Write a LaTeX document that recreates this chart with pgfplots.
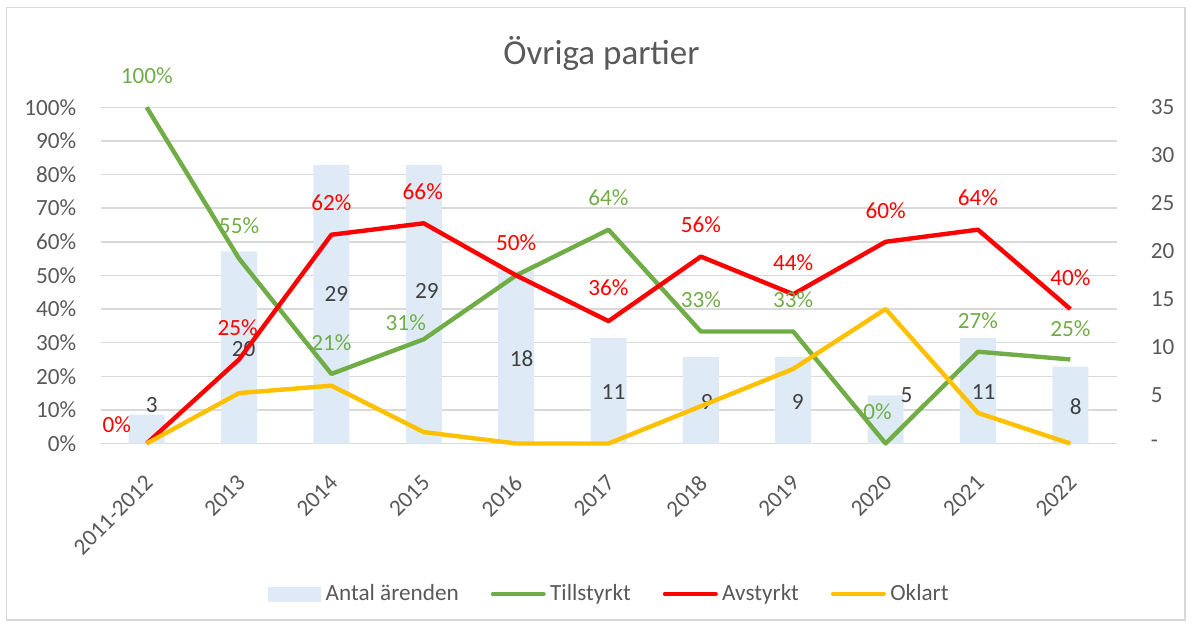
\documentclass[border=0pt]{standalone}
\usepackage{fontspec}
\setmainfont{Carlito}
\usepackage{pgfplots}
\usepackage{pgfplotstable}
\pgfplotsset{compat=1.18}
\definecolor{barblue}{HTML}{DEEBF7}
\definecolor{tgreen}{HTML}{70AD47}
\definecolor{ared}{HTML}{FF0000}
\definecolor{oyellow}{HTML}{FFC000}
\definecolor{gridgray}{HTML}{D9D9D9}
\definecolor{textgray}{HTML}{595959}
\definecolor{labgray}{HTML}{404040}
\newcommand\lblfont{\fontsize{11.6pt}{13pt}\selectfont}

% bar values (Antal ärenden); dx, dy = label offsets (pt) from bar top
\pgfplotstableread{
x n dx dy
0 3 2.5 4.85
1 20 2.3 -48.8
2 29 2.5 -64.55
3 29 1.5 -63.05
4 18 2.75 -44.2
5 11 2.5 -27.1
6 9 2.9 -22.5
7 9 2.2 -22.5
8 5 10.5 0.25
9 11 2.85 -27.1
10 8 2.65 -20.15
}\bars

% percentages
\pgfplotstableread{
x till avst okl
0 100 0 0
1 55 25 15
2 20.7 62.1 17.2
3 31 65.5 3.4
4 50 50 0
5 63.6 36.4 0
6 33.3 55.6 11.1
7 33.3 44.4 22.2
8 0 60 40
9 27.3 63.6 9.1
10 25 40 0
}\lines

\pgfplotstableread{
x y lab dx dy
0 100 100 0 15.75
1 55 55 0 16.5
2 20.7 21 0 15.6
3 31 31 -9 8.5
5 63.6 64 0 16
6 33.3 33 0 15.85
7 33.3 33 0 15.85
8 0 0 -4 15.75
9 27.3 27 0 15.5
10 25 25 0 15.5
}\glabs

\pgfplotstableread{
x y lab dx dy
0 0 0 -15 9.25
1 25 25 -0.7 16
2 62.1 62 0 15.85
3 65.5 66 -0.5 15.65
4 50 50 0 16.2
5 36.4 36 0 16.5
6 55.6 56 0 15.85
7 44.4 44 0 16
8 60 60 0 15.5
9 63.6 64 0 16
10 40 40 0 15.5
}\rlabs

\pgfplotsset{
  base/.style={scale only axis, width=508pt, height=168.1pt,
    xmin=-0.5, xmax=10.5, clip=false,
    tick label style={font=\lblfont, text=textgray},
    major tick length=0pt},
  lab/.style={draw=none, mark=none, forget plot,
    nodes near coords={\pgfplotspointmeta\%},
    point meta=explicit symbolic,
    visualization depends on={\thisrow{dx}\as\labdx},
    visualization depends on={\thisrow{dy}\as\labdy},
    every node near coord/.append style={anchor=center, xshift=\labdx pt,
      yshift=\labdy pt, font=\lblfont, inner sep=0pt, text=#1}},
}

\begin{document}
\begin{tikzpicture}
\useasboundingbox (-50.25pt,-91.75pt) rectangle (545.75pt,221.75pt);
\draw[gridgray, line width=0.75pt] (-46.9pt,-88.25pt) rectangle (542.25pt,218.1pt);
\node[anchor=base, font=\fontsize{17.5pt}{21pt}\selectfont, text=textgray, inner sep=0pt]
  at (250.5pt,189.25pt) {Övriga partier};

% background axis: grid, left percent axis, category labels
\begin{axis}[base, ymin=0, ymax=100,
  ytick={0,10,...,100},
  yticklabels={0\%,10\%,20\%,30\%,40\%,50\%,60\%,70\%,80\%,90\%,100\%},
  ymajorgrids, grid style={gridgray, line width=0.75pt},
  axis x line*=bottom, axis y line*=left,
  x axis line style={gridgray, line width=0.75pt, -},
  y axis line style={draw=none},
  xtick={0,...,10},
  xticklabels={2011-2012,2013,2014,2015,2016,2017,2018,2019,2020,2021,2022},
  xticklabel style={xshift=1.25pt, yshift=-17.75pt, rotate=45, anchor=east, inner sep=0pt},
  yticklabel style={anchor=east, inner sep=0pt, xshift=-11.9pt},
]
\end{axis}

% bar axis (right)
\begin{axis}[base, ymin=0, ymax=35,
  hide x axis, axis y line*=right, y axis line style={draw=none},
  ytick={0,5,...,35}, yticklabels={-,5,10,15,20,25,30,35},
  yticklabel style={anchor=west, inner sep=0pt, xshift=17pt},
]
\addplot[ybar, bar width=18pt, fill=barblue, draw=none,
  nodes near coords, point meta=explicit symbolic,
  visualization depends on={\thisrow{dx}\as\labdx},
  visualization depends on={\thisrow{dy}\as\labdy},
  every node near coord/.append style={anchor=center, xshift=\labdx pt,
    yshift=\labdy pt, font=\lblfont, inner sep=0pt, text=labgray}]
  table[x=x, y=n, meta=n] {\bars};
\end{axis}

% line axis
\begin{axis}[base, ymin=0, ymax=100, hide axis,
  legend columns=4,
  legend style={draw=none, fill=none, at={(0.5,-0.4476)}, anchor=center,
    font=\lblfont, text=textgray, nodes={inner sep=0pt},
    /tikz/every odd column/.append style={column sep=2.2pt},
    /tikz/every even column/.append style={column sep=16pt}},
]
\addplot[tgreen, line width=2.2pt, line join=round, mark=none, forget plot] table[x=x, y=till] {\lines};
\addplot[ared, line width=2.2pt, line join=round, mark=none, forget plot] table[x=x, y=avst] {\lines};
\addplot[oyellow, line width=2.2pt, line join=round, mark=none, forget plot] table[x=x, y=okl] {\lines};
\addplot[lab=tgreen] table[x=x, y=y, meta=lab] {\glabs};
\addplot[lab=ared] table[x=x, y=y, meta=lab] {\rlabs};

\addlegendimage{legend image code/.code={\fill[barblue] (0pt,-3.5pt) rectangle (26pt,3.5pt);}}
\addlegendentry{Antal ärenden}
\addlegendimage{legend image code/.code={\draw[tgreen, line width=2pt, line cap=round] (1pt,0pt) -- (26.5pt,0pt);}}
\addlegendentry{Tillstyrkt}
\addlegendimage{legend image code/.code={\draw[ared, line width=2pt, line cap=round] (1pt,0pt) -- (26.5pt,0pt);}}
\addlegendentry{Avstyrkt}
\addlegendimage{legend image code/.code={\draw[oyellow, line width=2pt, line cap=round] (1pt,0pt) -- (26.5pt,0pt);}}
\addlegendentry{Oklart}
\end{axis}
\end{tikzpicture}
\end{document}
